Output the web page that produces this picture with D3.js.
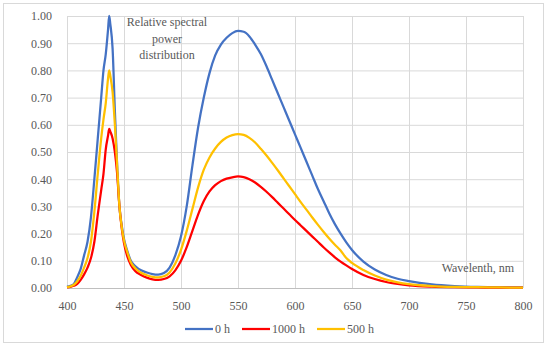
<!DOCTYPE html>
<html>
<head>
<meta charset="utf-8">
<script src="https://cdn.jsdelivr.net/npm/d3@7"></script>
<style>
  html, body { margin: 0; padding: 0; background: #fff; }
  svg text { font-family: "Liberation Serif", "DejaVu Serif", serif; fill: #595959; }
</style>
</head>
<body>
<svg id="chart" width="550" height="347"></svg>
<script>
// Data
const wavelengths = [400,403,406,409,412,415,418,421,424,427,430,432,434,436,437,438,440,442,444,446,448,450,453,456,460,465,470,475,480,485,490,495,500,505,510,515,520,525,530,535,540,545,550,555,560,565,570,575,580,585,590,595,600,605,610,615,620,625,630,635,640,645,650,660,670,680,690,700,720,740,760,780,800];

const h0 = [0.005,0.008,0.015,0.04,0.07,0.12,0.17,0.26,0.40,0.55,0.70,0.80,0.86,0.95,1.00,0.97,0.88,0.65,0.45,0.30,0.23,0.18,0.135,0.10,0.08,0.065,0.057,0.051,0.049,0.055,0.075,0.12,0.19,0.30,0.45,0.59,0.70,0.79,0.855,0.895,0.92,0.937,0.945,0.942,0.925,0.895,0.86,0.815,0.765,0.715,0.665,0.615,0.565,0.515,0.465,0.415,0.365,0.32,0.275,0.235,0.20,0.168,0.14,0.097,0.068,0.048,0.034,0.025,0.013,0.007,0.004,0.003,0.002];

const h1000 = [0.002,0.004,0.008,0.015,0.03,0.05,0.075,0.11,0.17,0.27,0.36,0.42,0.51,0.56,0.585,0.575,0.55,0.50,0.42,0.30,0.22,0.165,0.115,0.085,0.062,0.048,0.038,0.032,0.03,0.033,0.043,0.065,0.10,0.15,0.21,0.27,0.32,0.355,0.378,0.393,0.402,0.407,0.41,0.408,0.40,0.388,0.372,0.354,0.334,0.313,0.292,0.271,0.25,0.23,0.21,0.19,0.17,0.15,0.131,0.113,0.097,0.083,0.07,0.048,0.033,0.022,0.015,0.01,0.005,0.003,0.002,0.001,0.001];

const h500 = [0.003,0.006,0.012,0.025,0.045,0.075,0.11,0.17,0.28,0.42,0.55,0.62,0.68,0.77,0.80,0.78,0.72,0.60,0.45,0.30,0.225,0.175,0.13,0.095,0.072,0.056,0.047,0.041,0.039,0.043,0.057,0.09,0.14,0.21,0.29,0.37,0.435,0.48,0.513,0.537,0.553,0.562,0.566,0.563,0.552,0.535,0.512,0.487,0.46,0.432,0.403,0.374,0.345,0.316,0.288,0.26,0.233,0.207,0.182,0.159,0.138,0.11,0.092,0.066,0.046,0.031,0.021,0.014,0.007,0.004,0.003,0.002,0.001];

const seriesNames = ["0 h", "1000 h", "500 h"];
const seriesColors = ["#4472C4", "#FF0000", "#FFC000"];
const seriesValues = [h0, h1000, h500];

const xTicks = [400,450,500,550,600,650,700,750,800];
const yTicks = [0,0.1,0.2,0.3,0.4,0.5,0.6,0.7,0.8,0.9,1.0];

// Layout
const plot = { left: 67, right: 523, top: 16, bottom: 288 };

const svg = d3.select("#chart");

// outer chart border
svg.append("rect")
  .attr("x", 3.5).attr("y", 3.5)
  .attr("width", 540).attr("height", 339)
  .attr("fill", "#fff")
  .attr("stroke", "#d9d9d9");

const x = d3.scaleLinear().domain([400, 800]).range([plot.left, plot.right]);
const y = d3.scaleLinear().domain([0, 1]).range([plot.bottom, plot.top]);

// horizontal gridlines
svg.append("g")
  .attr("transform", `translate(${plot.left},0)`)
  .call(d3.axisLeft(y).tickValues(yTicks).tickSize(-(plot.right - plot.left)).tickFormat(""))
  .call(g => g.select(".domain").remove())
  .call(g => g.selectAll("line").attr("stroke", "#d9d9d9"));

// vertical gridlines
svg.append("g")
  .attr("transform", `translate(0,${plot.bottom})`)
  .call(d3.axisBottom(x).tickValues(xTicks).tickSize(-(plot.bottom - plot.top)).tickFormat(""))
  .call(g => g.select(".domain").remove())
  .call(g => g.selectAll("line").attr("stroke", "#d9d9d9"));

// x axis baseline
svg.append("line")
  .attr("x1", plot.left).attr("x2", plot.right)
  .attr("y1", y(0) + 0.5).attr("y2", y(0) + 0.5)
  .attr("stroke", "#bfbfbf");

// tick labels
svg.append("g")
  .attr("transform", `translate(${plot.left - 12},0)`)
  .call(d3.axisLeft(y).tickValues(yTicks).tickSize(0).tickFormat(d3.format(".2f")))
  .call(g => g.select(".domain").remove())
  .call(g => g.attr("font-family", null).attr("font-size", 12));

svg.append("g")
  .attr("transform", `translate(0,${plot.bottom + 10})`)
  .call(d3.axisBottom(x).tickValues(xTicks).tickSize(0).tickFormat(d3.format("d")))
  .call(g => g.select(".domain").remove())
  .call(g => g.attr("font-family", null).attr("font-size", 12));

// series lines
const line = d3.line()
  .x((d, i) => x(wavelengths[i]))
  .y(d => y(d))
  .curve(d3.curveMonotoneX);

svg.append("g")
  .selectAll("path")
  .data(seriesValues)
  .join("path")
    .attr("d", line)
    .attr("fill", "none")
    .attr("stroke", (d, i) => seriesColors[i])
    .attr("stroke-width", 2.25)
    .attr("stroke-linejoin", "round");

// annotations
const title = svg.append("text")
  .attr("text-anchor", "middle")
  .attr("font-size", 12);
["Relative spectral", "power", "distribution"].forEach((t, i) => {
  title.append("tspan").attr("x", 167).attr("y", 26 + i * 16.5).text(t);
});

svg.append("text")
  .attr("x", 514).attr("y", 272)
  .attr("text-anchor", "end")
  .attr("font-size", 12)
  .text("Wavelenth, nm");

// legend
const legendX = [185, 242, 317];
const legend = svg.append("g")
  .selectAll("g")
  .data(seriesNames)
  .join("g")
    .attr("transform", (d, i) => `translate(${legendX[i]},329)`);

legend.append("line")
  .attr("x1", 0).attr("x2", 28)
  .attr("stroke", (d, i) => seriesColors[i])
  .attr("stroke-width", 2.25);

legend.append("text")
  .attr("x", 30).attr("y", 4)
  .attr("font-size", 12)
  .text(d => d);
</script>
</body>
</html>
